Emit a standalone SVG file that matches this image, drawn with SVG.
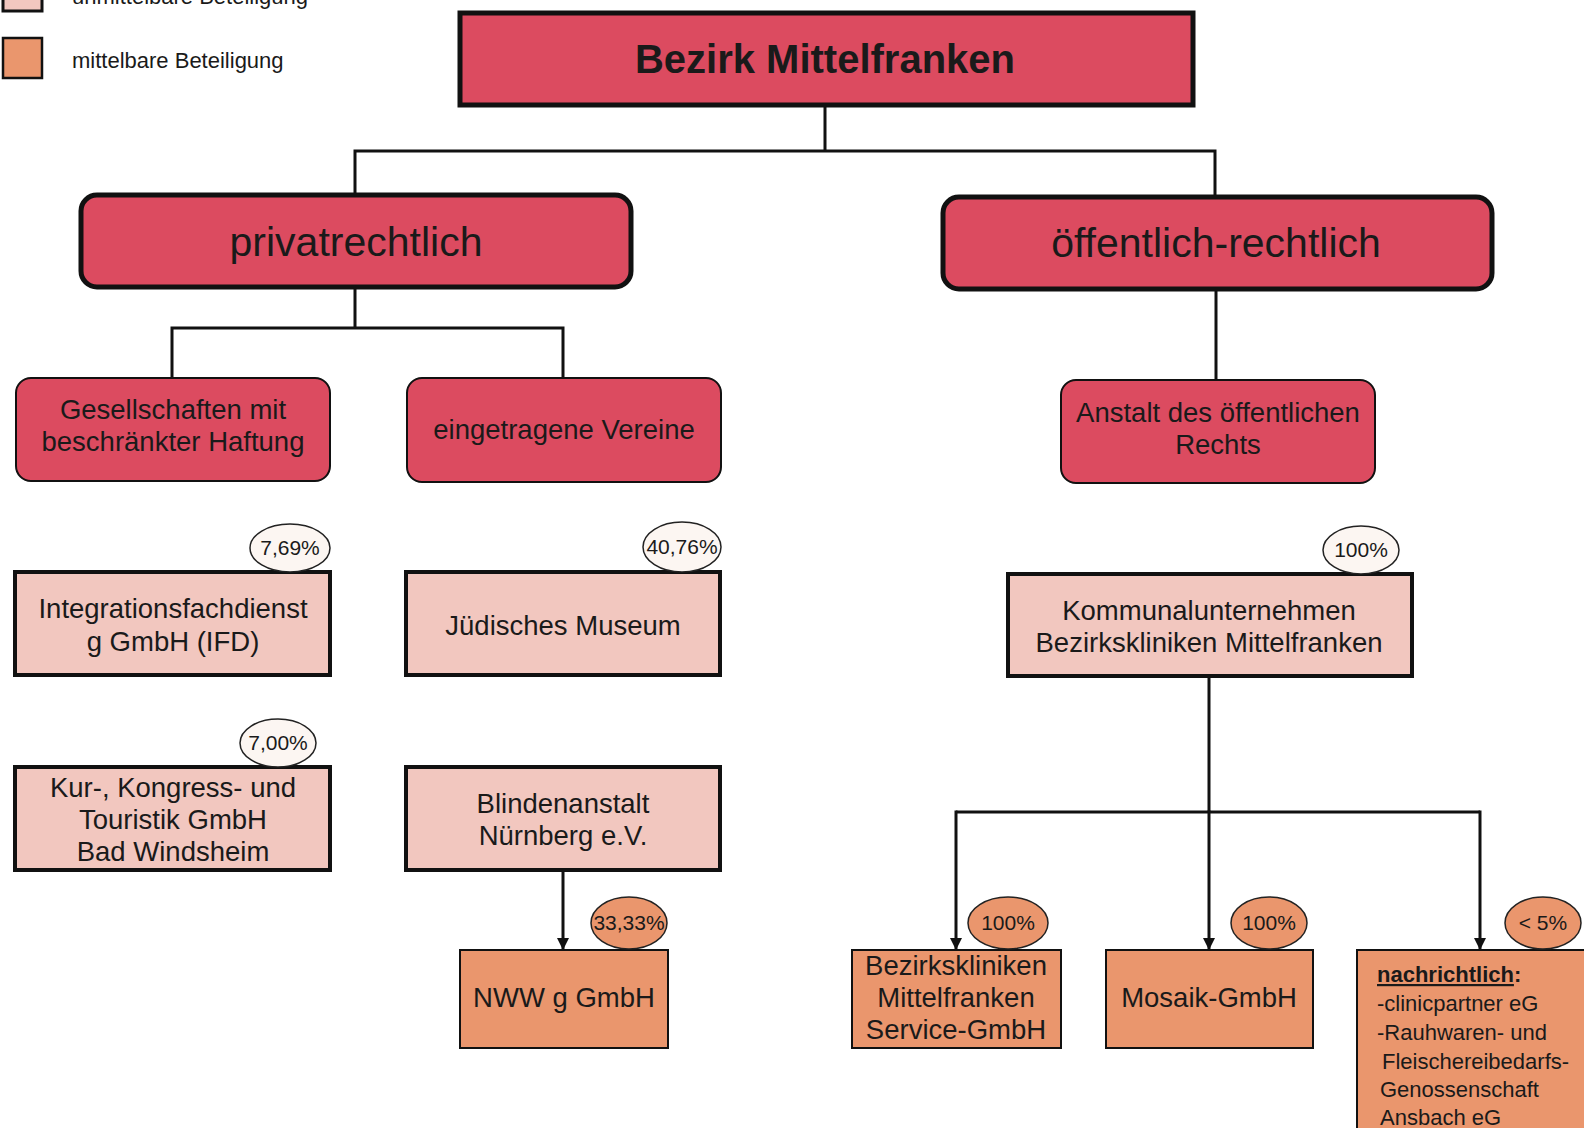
<svg xmlns="http://www.w3.org/2000/svg" width="1584" height="1128" viewBox="0 0 1584 1128">
<style>
text{font-family:"Liberation Sans",Arial,sans-serif;fill:#1a1a1a;text-anchor:middle}
.red{fill:#dc4b60;stroke:#111}
.pink{fill:#f2c7bf;stroke:#111;stroke-width:4}
.orange{fill:#ea966d;stroke:#111;stroke-width:2}
.pct{fill:#fcf6f2;stroke:#222;stroke-width:1.5}
.pcto{fill:#ea966d;stroke:#222;stroke-width:1.5}
.t27{font-size:27.5px}
.t20{font-size:21px}
.ln{fill:none;stroke:#111;stroke-width:3}
.nb{font-size:22px;text-anchor:start}
</style>
<defs>
<marker id="arr" viewBox="0 0 10 10" refX="10" refY="5" markerWidth="4" markerHeight="4" orient="auto" markerUnits="strokeWidth">
<path d="M0,0 L10,5 L0,10 z" fill="#111"/>
</marker>
</defs>
<g id="legend">
<rect x="3" y="-30" width="39" height="41" class="pink" style="stroke-width:3"/>
<text x="72" y="4" style="font-size:22px;text-anchor:start">unmittelbare Beteiligung</text>
<rect x="3" y="38" width="39" height="40" class="orange" style="stroke-width:2.5"/>
<text x="72" y="68" style="font-size:22px;text-anchor:start">mittelbare Beteiligung</text>
</g>
<g id="connectors">
<path class="ln" d="M825,105 V151 M355,151 H1215 M355,149.5 V195 M1215,149.5 V197"/>
<path class="ln" d="M355,287 V328 M172,328 H563 M172,326.5 V378 M563,326.5 V378"/>
<path class="ln" d="M1216,289 V380"/>
<path class="ln" d="M563,870 V950" marker-end="url(#arr)"/>
<path class="ln" d="M1209,676 V812 M956,812 H1480"/>
<path class="ln" d="M956,810.5 V950" marker-end="url(#arr)"/>
<path class="ln" d="M1209,810.5 V950" marker-end="url(#arr)"/>
<path class="ln" d="M1480,810.5 V950" marker-end="url(#arr)"/>
</g>
<g id="root">
<rect x="460" y="13" width="733" height="92" class="red" style="stroke-width:5"/>
<text x="825" y="73" style="font-size:40px;font-weight:bold">Bezirk Mittelfranken</text>
</g>
<g id="privatrechtlich">
<rect x="81" y="195" width="550" height="92" rx="16" class="red" style="stroke-width:5"/>
<text x="356" y="256" style="font-size:41px">privatrechtlich</text>
</g>
<g id="oeffentlich">
<rect x="943" y="197" width="549" height="92" rx="16" class="red" style="stroke-width:5"/>
<text x="1216" y="257" style="font-size:41px">öffentlich-rechtlich</text>
</g>
<g id="gmbh">
<rect x="16" y="378" width="314" height="103" rx="15" class="red" style="stroke-width:2"/>
<text x="173" y="419" class="t27">Gesellschaften mit</text>
<text x="173" y="451" class="t27">beschränkter Haftung</text>
</g>
<g id="vereine">
<rect x="407" y="378" width="314" height="104" rx="15" class="red" style="stroke-width:2"/>
<text x="564" y="439" class="t27">eingetragene Vereine</text>
</g>
<g id="anstalt">
<rect x="1061" y="380" width="314" height="103" rx="15" class="red" style="stroke-width:2"/>
<text x="1218" y="422" class="t27">Anstalt des öffentlichen</text>
<text x="1218" y="454" class="t27">Rechts</text>
</g>
<g id="ifd">
<rect x="15" y="572" width="315" height="103" class="pink"/>
<text x="173" y="618" class="t27">Integrationsfachdienst</text>
<text x="173" y="651" class="t27">g GmbH (IFD)</text>
<ellipse cx="290" cy="548" rx="40" ry="24" class="pct"/>
<text x="290" y="555" class="t20">7,69%</text>
</g>
<g id="museum">
<rect x="406" y="572" width="314" height="103" class="pink"/>
<text x="563" y="635" class="t27">Jüdisches Museum</text>
<ellipse cx="682" cy="547" rx="39" ry="25" class="pct"/>
<text x="682" y="554" class="t20">40,76%</text>
</g>
<g id="kommunal">
<rect x="1008" y="574" width="404" height="102" class="pink"/>
<text x="1209" y="620" class="t27">Kommunalunternehmen</text>
<text x="1209" y="652" class="t27">Bezirkskliniken Mittelfranken</text>
<ellipse cx="1361" cy="550" rx="38" ry="24" class="pct"/>
<text x="1361" y="557" class="t20">100%</text>
</g>
<g id="kur">
<rect x="15" y="767" width="315" height="103" class="pink"/>
<text x="173" y="797" class="t27">Kur-, Kongress- und</text>
<text x="173" y="829" class="t27">Touristik GmbH</text>
<text x="173" y="861" class="t27">Bad Windsheim</text>
<ellipse cx="278" cy="743" rx="38" ry="24" class="pct"/>
<text x="278" y="750" class="t20">7,00%</text>
</g>
<g id="blinden">
<rect x="406" y="767" width="314" height="103" class="pink"/>
<text x="563" y="813" class="t27">Blindenanstalt</text>
<text x="563" y="845" class="t27">Nürnberg e.V.</text>
</g>
<g id="nww">
<rect x="460" y="950" width="208" height="98" class="orange"/>
<text x="564" y="1007" class="t27">NWW g GmbH</text>
<ellipse cx="629" cy="923" rx="38" ry="26" class="pcto"/>
<text x="629" y="930" class="t20">33,33%</text>
</g>
<g id="service">
<rect x="852" y="950" width="209" height="98" class="orange"/>
<text x="956" y="975" class="t27">Bezirkskliniken</text>
<text x="956" y="1007" class="t27">Mittelfranken</text>
<text x="956" y="1039" class="t27">Service-GmbH</text>
<ellipse cx="1008" cy="923" rx="40" ry="26" class="pcto"/>
<text x="1008" y="930" class="t20">100%</text>
</g>
<g id="mosaik">
<rect x="1106" y="950" width="207" height="98" class="orange"/>
<text x="1209" y="1007" class="t27">Mosaik-GmbH</text>
<ellipse cx="1269" cy="923" rx="38" ry="26" class="pcto"/>
<text x="1269" y="930" class="t20">100%</text>
</g>
<g id="nachrichtlich">
<rect x="1357" y="950" width="240" height="200" class="orange"/>
<text x="1377" y="982" class="nb" style="font-weight:bold"><tspan text-decoration="underline">nachrichtlich</tspan>:</text>
<text x="1377" y="1011" class="nb">-clinicpartner eG</text>
<text x="1377" y="1040" class="nb">-Rauhwaren- und</text>
<text x="1382" y="1069" class="nb">Fleischereibedarfs-</text>
<text x="1380" y="1097" class="nb">Genossenschaft</text>
<text x="1380" y="1125" class="nb">Ansbach eG</text>
<ellipse cx="1543" cy="923" rx="38" ry="26" class="pcto"/>
<text x="1543" y="930" class="t20">&lt; 5%</text>
</g>
</svg>
